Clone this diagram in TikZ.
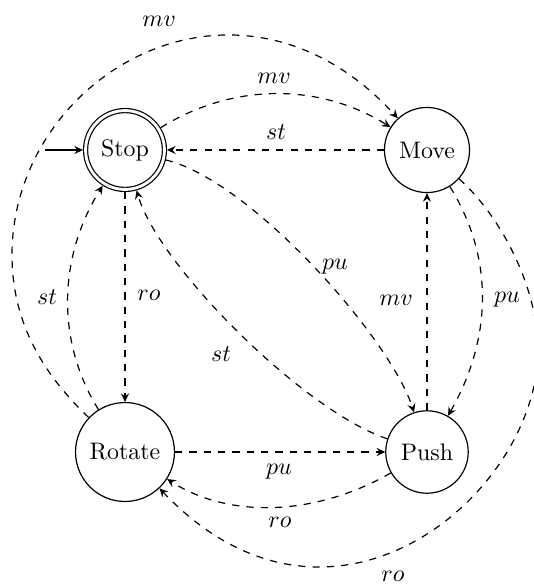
\documentclass[tikz,border=0pt]{standalone}
\usetikzlibrary{arrows.meta}
\begin{document}
\begin{tikzpicture}[x=0.4184pt, y=-0.4184pt, line width=0.5pt,
  state/.style={circle, draw, inner sep=0pt},
  tip/.style={-{Stealth[length=3.6pt,width=3.4pt,inset=1.3pt]}},
  trans/.style={dashed, tip},
  lbl/.style={inner sep=0pt}]
\useasboundingbox (0,0) rectangle (534,585);

% states
\node[state, double, double distance=1.2pt, minimum size=33pt, outer sep=1.1pt] (Stop) at (125,150) {Stop};
\node[state, minimum size=35.6pt] (Move)   at (427,150) {Move};
\node[state, minimum size=41.4pt] (Rotate) at (125,452) {Rotate};
\node[state, minimum size=34.5pt] (Push)   at (427,452) {Push};

% initial arrow
\coordinate (init) at (45,150);
\draw[tip] (init) -- (Stop);

% straight transitions
\draw[trans] (Move) -- (Stop);
\draw[trans] (Stop) -- (Rotate);
\draw[trans] (Push) -- (Move);
\draw[trans] (Rotate) -- (Push);

% bent transitions
\draw[trans] (Stop) .. controls (232.7,82.7) and (319.3,82.7) .. (Move);
\draw[trans] (Rotate) .. controls (57,343.2) and (57,258.8) .. (Stop);
\draw[trans] (Stop) .. controls (251.3,180.8) and (389.9,337.9) .. (Push);
\draw[trans] (Push) .. controls (303.6,410.9) and (158.1,265.3) .. (Stop);
\draw[trans] (Move) .. controls (495.1,259) and (491.3,340.7) .. (Push);
\draw[trans] (Push) .. controls (318.1,514.9) and (231,520) .. (Rotate);

% long arcs around the outside
\coordinate (mvL) at (12,255);
\draw[trans] (Rotate) .. controls (45.3,376.3) and (12,325) .. (mvL)
             .. controls (12,75) and (237.7,-56.4) .. (Move);
\coordinate (roR) at (538,350);
\draw[trans] (Move) .. controls (503.2,218.5) and (538,290) .. (roR)
             .. controls (538,495) and (331.4,669.5) .. (Rotate);

% transition labels
\node[lbl] (lmvOuter) at (159,21)  {$mv$};
\node[lbl] (lmvTop)   at (274,78)  {$mv$};
\node[lbl] (lstTop)   at (276,132) {$st$};
\node[lbl] (lroLeft)  at (149,295) {$ro$};
\node[lbl] (lstLeft)  at (47,297)  {$st$};
\node[lbl] (lpuDiag)  at (335,267) {$pu$};
\node[lbl] (lstDiag)  at (221,354) {$st$};
\node[lbl] (lmvRight) at (396,300) {$mv$};
\node[lbl] (lpuRight) at (507,300) {$pu$};
\node[lbl] (lpuBot)   at (279,472) {$pu$};
\node[lbl] (lroInner) at (280,522) {$ro$};
\node[lbl] (lroOuter) at (393,576) {$ro$};
\end{tikzpicture}
\end{document}
